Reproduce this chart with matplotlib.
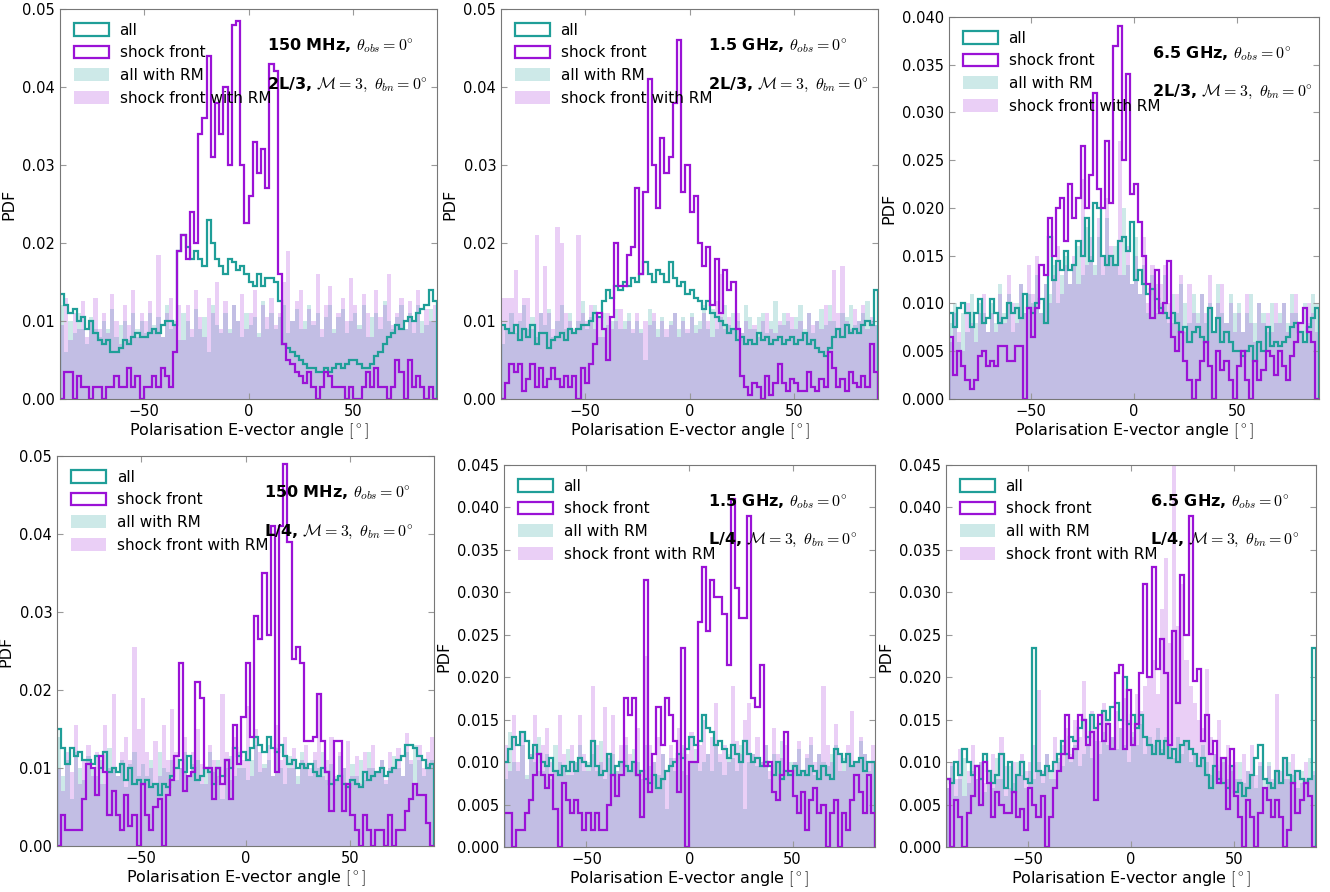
import numpy as np
import matplotlib
matplotlib.use("Agg")
import matplotlib.pyplot as plt

plt.rcParams['mathtext.fontset'] = 'cm'
plt.rcParams['font.family'] = 'DejaVu Sans'

#--------------------------------------
# bins: 2 degree wide, -90 .. 90 ; values in units of 1e-3 (PDF)
edges   = np.arange(-90, 92, 2)
centers = 0.5*(edges[:-1]+edges[1:])

freq_labels  = ["150 MHz", "1.5 GHz", "6.5 GHz", "150 MHz", "1.5 GHz", "6.5 GHz"]
depth_labels = ["2L/3", "2L/3", "2L/3", "L/4", "L/4", "L/4"]
ymax         = [0.05, 0.05, 0.04, 0.05, 0.045, 0.045]
ystep        = [0.01, 0.01, 0.005, 0.01, 0.005, 0.005]

# panel 1 : 150 MHz, 2L/3
all_1 = [13.5, 12, 11, 11.5, 10, 10.5, 9, 10, 8.5, 7.5,
         7, 7.5, 6, 6, 6.5, 7.5, 7, 8, 8.5, 8,
         8, 8.5, 9, 8.5, 9.5, 10, 10, 9.5, 19, 21,
         19.5, 18, 19, 18, 17, 23, 20, 18, 17, 16,
         18, 17.5, 16.5, 17, 16, 15, 14.5, 16, 14.5, 15.5,
         15.5, 15, 12.5, 7, 6.5, 6, 5.5, 5, 4.5, 4,
         4, 3.5, 3.5, 4, 3.5, 4, 4.5, 4, 4.5, 5,
         5, 4.5, 4, 4, 4.5, 5.5, 6, 7, 8, 8.5,
         9.5, 9, 10, 10.5, 10, 11, 11.5, 12, 14, 12.5]
shock_1 = [0, 3.5, 3.5, 0, 3, 1.5, 1.5, 0, 1.5, 1.5,
           0, 1.5, 1.5, 3, 1.5, 1.5, 4, 1.5, 3, 0,
           1.5, 1.5, 3, 1.5, 4, 3, 1.5, 6, 19, 21,
           18, 24, 20, 34, 36, 44, 31, 38, 34, 40,
           30, 48, 48.5, 30, 22.5, 26, 33, 29, 32, 27,
           43, 42, 16, 7, 5, 4.5, 3.5, 3, 2, 3.5,
           1.5, 0, 1.5, 3.5, 3, 1.5, 1.5, 1.5, 0, 1.5,
           0, 0, 1.5, 3.5, 1.5, 4, 1.5, 1.5, 0, 1.5,
           5, 3.5, 0, 5, 1.5, 3, 1.5, 0, 1.5, 0]
allrm_1 = [12, 6, 10, 8.5, 11, 9, 7, 10.5, 9, 8,
           10, 9, 11.5, 8, 9.5, 10, 7.5, 11, 9, 10,
           8.5, 11, 9.5, 10.5, 8, 12, 9, 10, 7.5, 11,
           10, 8, 11.5, 9, 10.5, 6, 12, 9.5, 8.5, 11,
           9, 12, 10, 8, 11, 9.5, 10.5, 8.5, 12.5, 9,
           11, 9, 10.5, 12, 8.5, 10, 11.5, 9, 10, 12,
           9.5, 11, 8, 10.5, 12, 9, 10.5, 11.5, 8.5, 10,
           11, 9.5, 12, 8, 10.5, 11, 9, 12.5, 10, 9,
           10.5, 12, 9, 11, 8.5, 12, 10, 9.5, 11.5, 10]
shockrm_1 = [9.5, 13, 7.5, 11, 9, 12.5, 8, 10, 13, 9,
             11, 8.5, 13.5, 10, 7, 12, 9.5, 14, 8, 11,
             10, 12.5, 9, 18.5, 8, 11, 13, 9.5, 12, 7.5,
             12, 9, 14, 10.5, 8, 13, 11, 15, 9, 12.5,
             8.5, 12, 10, 13.5, 9, 11, 14, 8, 12, 10.5,
             13, 9.5, 11, 15, 19, 10, 12.5, 14, 9, 11.5,
             10, 16, 9, 12, 14.5, 8.5, 11, 13, 10, 15.5,
             12, 9, 13.5, 11, 8, 14, 10.5, 12, 16, 9.5,
             11, 13, 9, 12.5, 10, 14, 8.5, 11.5, 10, 12]

# panel 2 : 1.5 GHz, 2L/3
all_2 = [9.5, 9, 8.5, 9.5, 7.5, 9, 8, 9.5, 7, 8.5,
         8.5, 6.5, 7.5, 8, 8.5, 7.5, 9, 8.5, 9, 9.5,
         9.5, 10, 11, 10.5, 12.5, 14, 13, 14.5, 14, 15,
         14.5, 15.5, 15, 16, 17.5, 16, 15, 16.5, 16, 15,
         17.5, 15.5, 14.5, 15, 13.5, 14, 13, 12.5, 11.5, 12.5,
         11, 10.5, 10, 9.5, 8.5, 9, 7.5, 8, 7, 7.5,
         7, 8.5, 7.5, 8, 7, 7.5, 8, 7, 7.5, 8,
         7, 7.5, 8.5, 7, 7.5, 6.5, 6, 5.5, 6.5, 8,
         9, 8, 9.5, 8.5, 9, 8.5, 9.5, 10, 9.5, 14]
shock_2 = [0, 2, 4.5, 3.5, 4.5, 1, 2.5, 4.5, 1.5, 4,
           1.5, 2.5, 4, 2.5, 1.5, 3, 1.5, 3, 0, 4,
           2, 4.5, 7, 11, 9, 5, 10.5, 20, 14.5, 14.5,
           18.5, 19.5, 27, 16, 26.5, 41, 30, 24.5, 33.5, 29,
           31, 38, 46, 26.5, 30, 24, 26, 20, 17, 19.5,
           12, 18, 11, 16.5, 14, 15, 9, 3, 1.5, 0.5,
           2, 1.5, 0, 3, 0.5, 2, 4.5, 2, 1, 2.5,
           2, 1, 1, 3.5, 1.5, 1, 2.5, 1.5, 6, 4,
           1.5, 2.5, 1, 3.5, 2, 1.5, 3, 1.5, 7, 3.5]
allrm_2 = [7, 9, 11, 8.5, 10, 12, 9, 10.5, 8, 11,
           9.5, 11.5, 8, 10, 12, 9, 11, 8.5, 10, 12.5,
           9, 10.5, 12, 8, 11, 9.5, 10, 11.5, 9, 10,
           11, 8.5, 10, 9, 5, 11.5, 10, 9, 10.5, 8,
           10, 11, 9, 10.5, 8.5, 11, 9.5, 10, 12, 9,
           11.5, 9, 10.5, 12, 9.5, 11, 10, 8.5, 12, 10.5,
           9, 10.5, 11, 8.5, 10, 12.5, 9.5, 11, 10, 9,
           10.5, 12, 9, 11, 8.5, 10, 11.5, 9.5, 12, 10,
           9, 11, 10.5, 12, 9.5, 10, 11, 12.5, 10, 9.5]
shockrm_2 = [13, 13, 13, 16.5, 11, 13, 13, 9, 21, 11,
             17, 11, 9, 22, 20, 11, 10, 9, 21, 11,
             10, 12, 9, 10.5, 8, 11, 9, 10, 11.5, 9,
             10, 9, 11, 8.5, 10, 9.5, 11, 8, 10, 9,
             9.5, 11, 8, 10, 9, 10.5, 8.5, 9, 11, 10,
             8, 12.5, 16, 9, 10.5, 9, 11, 8.5, 10, 9,
             9.5, 8, 10, 11, 9, 8.5, 10, 9.5, 11, 10.5,
             9, 10, 8.5, 11, 9.5, 10, 9, 12, 10, 16.5,
             11, 17, 10, 9, 11.5, 10, 12, 9, 10.5, 9.5]

# panel 3 : 6.5 GHz, 2L/3
all_3 = [9, 7.5, 9.5, 10, 9, 7.5, 9, 10.5, 8, 8.5,
         10.5, 9, 8, 8.5, 10, 9, 9.5, 8.5, 11, 9.5,
         9, 10, 10.5, 8, 17, 12.5, 14.5, 13.5, 15.5, 13.5,
         14, 16.5, 15, 19, 14.5, 20.5, 20, 15, 14, 15,
         14, 16.5, 17, 15.5, 18.5, 12.5, 13.5, 12, 11, 11.5,
         10.5, 9.5, 9, 8.5, 9, 8, 7, 7.5, 6, 7,
         7.5, 6.5, 6, 9.5, 7, 8.5, 6, 7, 6, 5,
         5, 4.5, 5, 5.5, 4, 6, 5, 7.5, 5.5, 6,
         5.5, 6, 6.5, 7.5, 8, 7, 6, 7.5, 8.5, 9.5]
shock_3 = [6.5, 2.5, 5, 3.5, 2, 1, 2, 4.5, 5, 3.5,
           4, 3.5, 5.5, 5.5, 4, 4, 5.5, 5.5, 0, 9.5,
           6.5, 9.5, 14, 13, 19, 15, 20, 21, 16.5, 22.5,
           19, 21, 26.5, 20, 23.5, 32, 22, 20, 27, 20.5,
           37, 39, 25, 34, 21.5, 22.5, 18.5, 15, 12, 8.5,
           13.5, 9, 10, 14.5, 6.5, 5, 7, 4, 2, 0,
           2, 4, 6, 3.5, 0, 5, 3, 4, 2, 0,
           3.5, 5, 2, 0, 4, 2, 3, 5, 4.5, 2.5,
           5, 3.5, 2, 4.5, 6, 8, 9.5, 7, 6, 0]
allrm_3 = [8, 10, 6, 9, 7, 11, 8, 10, 9, 7,
           10, 8, 12, 9, 11, 7, 10, 12, 9, 11,
           10, 13, 9, 12, 11, 14, 10, 13, 15, 12,
           14, 16, 13, 18, 15, 14, 17, 13, 19, 15,
           16, 13, 20, 14, 12, 17, 11, 14, 9, 13,
           12, 10, 13, 8, 11, 9, 12, 10, 8, 11,
           9, 11, 8, 10, 7, 12, 9, 8, 11, 9,
           10, 7, 9, 11, 8, 10, 9, 7, 10, 8,
           9, 10, 8, 11, 9, 7, 10, 8, 11, 10]
shockrm_3 = [6, 9, 7, 5, 10, 8, 6, 9, 11, 7,
             9, 7, 11, 8, 13, 10, 8, 12, 9, 14,
             11, 15, 9, 12, 10, 13, 16, 11, 14, 12,
             15, 12, 23, 14, 17, 13, 19, 15, 21, 16,
             14, 27, 13, 16, 12, 15, 11, 17, 10, 14,
             9, 12, 14, 10, 8, 11, 13, 7, 12, 9,
             8, 11, 9, 13, 7, 10, 12, 8, 10, 7,
             9, 7, 11, 8, 6, 10, 8, 9, 7, 10,
             8, 10, 7, 9, 11, 8, 6, 10, 9, 7]

# panel 4 : 150 MHz, L/4
all_4 = [15, 12.5, 10.5, 12.5, 11.5, 12, 11, 11, 10.5, 11.5,
         10, 12, 9.5, 10, 9.5, 10.5, 8.5, 10, 8, 8.5,
         8, 8.5, 7.5, 8, 6.5, 8, 7.5, 9, 10, 11,
         9.5, 11.5, 10, 8.5, 9, 10, 9.5, 8, 10, 9,
         11, 10, 12.5, 11.5, 12, 11, 12.5, 14, 13, 12,
         14, 12.5, 12, 13, 11.5, 10.5, 11, 10, 10.5, 10,
         10.5, 9.5, 9, 10, 9.5, 8, 8.5, 9, 8, 7.5,
         8.5, 8, 7.5, 9.5, 8.5, 9, 9.5, 10, 9, 9.5,
         10, 11, 11.5, 13, 13, 12.5, 11.5, 11, 10, 10.5]
shock_4 = [0, 4, 2, 2, 2, 2, 6, 10.5, 10, 6.5,
           11.5, 9.5, 4, 7, 4, 2, 6.5, 2.5, 4, 0,
           8, 4, 2, 5, 6, 0, 6.5, 8.5, 11.5, 23.5,
           7, 9, 9.5, 21, 19, 10, 10, 6, 10, 8,
           11, 6, 15.5, 10.5, 16.5, 23.5, 14, 29.5, 26.5, 35,
           27, 41, 9.5, 41, 49, 39, 24, 25.5, 23.5, 13.5,
           13.5, 14, 19.5, 13.5, 9.5, 4.5, 13.5, 13.5, 4.5, 8,
           4, 2, 0, 4, 2, 0, 2, 2, 0, 4,
           0, 2, 2, 4.5, 6, 8, 6.5, 6.5, 3, 0]
allrm_4 = [14, 9, 11, 6, 12, 10, 8.5, 11.5, 10, 9,
           11, 8, 12.5, 10, 9, 11, 7.5, 10.5, 12, 9,
           10.5, 9, 11, 8, 12, 10, 9.5, 11, 8.5, 10,
           12, 9, 10.5, 11, 8, 10, 12, 9.5, 11, 6,
           10, 11.5, 9, 12, 10, 8.5, 11, 13, 9.5, 10.5,
           11, 9, 12.5, 10, 8, 11.5, 10, 9, 12, 10.5,
           9, 11, 10, 12, 8.5, 10.5, 9, 11.5, 10, 8,
           10.5, 9, 11, 8.5, 12, 10, 9.5, 11, 8, 10,
           11.5, 10, 9, 12, 10.5, 13, 11, 9, 10.5, 11]
shockrm_4 = [10, 7, 12, 9.5, 15.5, 8, 11, 13, 9, 12,
             8, 15.5, 10, 19.5, 9, 12, 14, 11, 25.5, 15,
             19, 12, 10, 13.5, 9, 15.5, 11, 17.5, 12, 10,
             14, 9, 12, 15, 10.5, 8, 13, 11, 9, 19.5,
             12, 8.5, 14, 10, 11, 18, 9, 15, 12, 10,
             13, 9, 15.5, 11, 14, 10, 12.5, 8, 11, 13,
             10, 12, 19.5, 9, 11, 14, 8.5, 12, 10, 13.5,
             9, 11.5, 8, 12, 10, 13, 9.5, 11, 8.5, 12,
             10, 12.5, 9, 14.5, 11, 8, 13, 10, 12, 14]

# panel 5 : 1.5 GHz, L/4
all_5 = [10, 11.5, 13, 12, 13.5, 12.5, 10.5, 12, 11, 10,
         9.5, 10.5, 9, 8.5, 9.5, 9, 10, 9, 10.5, 10,
         9.5, 12.5, 9.5, 8.5, 9, 11, 8.5, 9.5, 10, 9.5,
         9, 10, 8.5, 9, 8, 7.5, 8.5, 7, 8, 9,
         9.5, 10, 11, 10.5, 11.5, 13, 12, 12.5, 15.5, 14,
         13.5, 12, 12.5, 11.5, 10.5, 12, 11, 10, 12.5, 11,
         10, 10.5, 9.5, 10, 9.5, 8.5, 10, 8, 9, 8.5,
         9.5, 8.5, 9, 8.5, 9.5, 9, 8, 9.5, 8.5, 8,
         11.5, 11, 10, 11, 9.5, 10, 10.5, 9, 10, 10]
shock_5 = [4, 4, 0, 2, 2, 4, 5.5, 8.5, 11, 8.5,
           7, 8.5, 4.5, 0, 7.5, 5.5, 4, 5.5, 4, 2,
           4, 2, 4, 2, 2, 5, 8.5, 6, 8.5, 17.5,
           15.5, 17.5, 8.5, 3.5, 31.5, 6.5, 11, 16.5, 12, 17.5,
           15.5, 12.5, 6.5, 23.5, 0, 10, 10, 26.5, 33, 25.5,
           31.5, 29.5, 29.5, 27.5, 21.5, 41, 30.5, 27, 27, 39,
           17.5, 16.5, 21.5, 9.5, 10, 6.5, 5.5, 8.5, 13.5, 9,
           6, 4, 6.5, 2, 5.5, 7, 4, 5, 0, 4,
           5.5, 0, 4, 2, 5.5, 8.5, 6.5, 4, 8.5, 4]
allrm_5 = [8, 13.5, 10, 9, 12, 8.5, 11, 10, 13, 9,
           11, 8, 12, 10, 9.5, 11.5, 8.5, 10, 12, 9,
           10, 11, 9, 12.5, 8, 10.5, 11, 9, 10, 12,
           9, 11.5, 10, 8, 12, 9.5, 10, 8.5, 11, 4.5,
           10.5, 9, 11, 12, 8.5, 10, 11.5, 9, 10, 11,
           9, 12, 10, 8.5, 11, 10.5, 9, 12, 4.5, 10,
           11, 9.5, 10, 12, 8, 11, 10, 12.5, 9, 10,
           10, 11.5, 9, 10.5, 12, 8.5, 11, 10, 9.5, 11,
           12, 9, 10.5, 11, 9.5, 10, 12.5, 11, 9, 10]
shockrm_5 = [12, 9, 15.5, 10, 13.5, 8, 11, 15.5, 9, 12,
             14, 10, 9, 15.5, 11, 8.5, 12, 10, 15.5, 11,
             9, 19, 12, 10, 16.5, 11, 15.5, 9, 12, 13,
             11, 10, 14, 9, 22.5, 12, 10, 13, 11, 9,
             12, 10.5, 14, 9, 11, 13.5, 10, 12, 15, 11,
             13, 17, 11, 12, 10, 19, 12.5, 11, 15, 17,
             11, 13, 10, 12, 9, 14, 11, 10.5, 12, 9,
             10, 12.5, 9, 11, 13, 10, 11, 19, 12, 10,
             14.5, 11, 9, 12, 16, 10, 13, 11, 10, 12]

# panel 6 : 6.5 GHz, L/4
all_6 = [8, 7.5, 10, 8.5, 11.5, 10, 8.5, 9.5, 8, 11,
         9, 7.5, 8.5, 11, 7, 10, 6.5, 8.5, 10, 8,
         7.5, 23.5, 9, 8.5, 9.5, 9, 10, 11, 12.5, 11,
         13, 12.5, 14, 15, 13, 15.5, 14, 14.5, 16, 15,
         16.5, 17, 15, 20, 14.5, 15.5, 14, 15.5, 13, 12,
         11, 12.5, 11, 12.5, 10.5, 11.5, 10, 12, 12.5, 11.5,
         11, 9.5, 10.5, 8.5, 7, 9.5, 8, 7.5, 7, 9.5,
         6.5, 7.5, 6, 7, 8.5, 10.5, 12, 8, 7.5, 7,
         9, 7.5, 10.5, 8.5, 7.5, 9, 8, 7.5, 8, 23.5]
shock_6 = [8, 0, 5.5, 3.5, 0, 4, 6, 9.5, 5, 10,
           7.5, 3.5, 6.5, 5, 4, 4, 6.5, 3.5, 4.5, 2,
           7, 5, 3.5, 6, 0, 3.5, 7, 9, 11, 15.5,
           10.5, 11.5, 15.5, 15, 12, 13.5, 5.5, 15.5, 12.5, 14.5,
           11.5, 20.5, 21.5, 11.5, 18.5, 12, 14.5, 20.5, 31, 20,
           33, 21, 24.5, 20.5, 12, 25.5, 17, 32, 25, 39,
           19.5, 21, 12.5, 15.5, 11, 12.5, 7.5, 10.5, 4.5, 11.5,
           6, 3.5, 0, 5.5, 3.5, 0, 4, 7, 5.5, 3.5,
           5.5, 3.5, 0, 2, 7.5, 4, 5.5, 7.5, 6, 0]
allrm_6 = [7, 9.5, 6, 8, 10.5, 7.5, 9, 8, 10, 6.5,
           9, 7, 10.5, 8, 6, 9.5, 7.5, 10, 8.5, 7,
           9, 8, 10, 7.5, 11, 9, 8, 10.5, 9.5, 11,
           10, 12, 9.5, 11, 13, 10.5, 12.5, 11, 13.5, 12,
           13, 11.5, 14, 12, 10, 13.5, 12, 14.5, 11, 13,
           12, 14, 11.5, 13, 12, 10.5, 13, 11, 12.5, 10,
           11, 9.5, 12, 10, 8.5, 11, 9, 10.5, 8, 9.5,
           8, 10, 7.5, 9, 8.5, 7, 9.5, 8, 10, 7.5,
           9, 7.5, 8, 10, 8.5, 7, 9, 8, 10.5, 8.5]
shockrm_6 = [7, 10, 8, 11.5, 6, 9, 12, 8, 10, 7.5,
             9, 11, 8, 13, 9.5, 7, 10, 8.5, 11, 9,
             10, 12, 18.5, 9, 11, 8, 13, 10, 12, 14,
             11, 15, 13, 19.5, 12, 16, 14, 12.5, 17, 15,
             13, 16, 14, 17.5, 15, 13, 18, 16, 19, 20,
             22, 18, 28, 34, 24, 45, 26, 31, 22, 19,
             17, 15, 14, 21, 13, 11, 15, 10, 12, 9,
             10, 8, 11, 9, 12, 8.5, 10, 7, 9.5, 8,
             18, 9, 10.5, 8, 11, 9, 7.5, 10, 8, 9]

all_list     = [all_1, all_2, all_3, all_4, all_5, all_6]
shock_list   = [shock_1, shock_2, shock_3, shock_4, shock_5, shock_6]
allrm_list   = [allrm_1, allrm_2, allrm_3, allrm_4, allrm_5, allrm_6]
shockrm_list = [shockrm_1, shockrm_2, shockrm_3, shockrm_4, shockrm_5, shockrm_6]

#--------------------------------------
teal   = '#1f9e98'
purple = '#9a12d6'

# axes rectangles (figure fraction)
rects = [[0.0451, 0.5527, 0.2835, 0.4372],
         [0.3767, 0.5527, 0.2835, 0.4372],
         [0.7135, 0.5527, 0.2782, 0.4283],
         [0.0429, 0.0516, 0.2835, 0.4372],
         [0.3789, 0.0504, 0.2790, 0.4283],
         [0.7113, 0.0504, 0.2782, 0.4283]]

fig = plt.figure(figsize=(13.3, 8.92), dpi=100)

for k in range(6):
    ax = fig.add_axes(rects[k])
    w_all     = np.array(all_list[k])*1e-3
    w_shock   = np.array(shock_list[k])*1e-3
    w_allrm   = np.array(allrm_list[k])*1e-3
    w_shockrm = np.array(shockrm_list[k])*1e-3

    ax.hist(centers, bins=edges, weights=w_all, histtype='step',
            color=teal, linewidth=1.6, label='all')
    ax.hist(centers, bins=edges, weights=w_shock, histtype='step',
            color=purple, linewidth=1.6, label='shock front')
    ax.hist(centers, bins=edges, weights=w_allrm, histtype='stepfilled',
            color=teal, alpha=0.22, linewidth=0, label='all with RM')
    ax.hist(centers, bins=edges, weights=w_shockrm, histtype='stepfilled',
            color=purple, alpha=0.2, linewidth=0, label='shock front with RM')

    ax.set_xlim(-90, 90)
    ax.set_ylim(0, ymax[k])
    ax.set_xticks([-50, 0, 50])
    ax.set_yticks(np.arange(0, ymax[k]+1e-9, ystep[k]))
    if ystep[k] < 0.01:
        ax.yaxis.set_major_formatter(matplotlib.ticker.FormatStrFormatter('%.3f'))
    else:
        ax.yaxis.set_major_formatter(matplotlib.ticker.FormatStrFormatter('%.2f'))
    ax.tick_params(direction='in', top=True, right=True, labelsize=10.5, length=4,
                   color='#999999')
    for s in ax.spines.values():
        s.set_color('#777777')
    ax.set_xlabel(r'Polarisation E-vector angle $[^\circ]$', fontsize=11.5, labelpad=2)
    ax.set_ylabel('PDF', fontsize=11.5, labelpad=4)

    ax.legend(loc='upper left', frameon=False, fontsize=11, handlelength=2.3,
              handleheight=0.9, labelspacing=0.5, borderaxespad=0.5, handletextpad=0.7)

    ax.text(0.55, 0.905, freq_labels[k] + r', $\theta_{obs}=\mathbf{0}^{\circ}$',
            transform=ax.transAxes, fontsize=11.5, fontweight='bold', va='center')
    ax.text(0.55, 0.805, depth_labels[k] + r', $\mathcal{M}=3,\ \theta_{bn}=0^{\circ}$',
            transform=ax.transAxes, fontsize=11.5, fontweight='bold', va='center')

fig.savefig('out.png', dpi=100)
